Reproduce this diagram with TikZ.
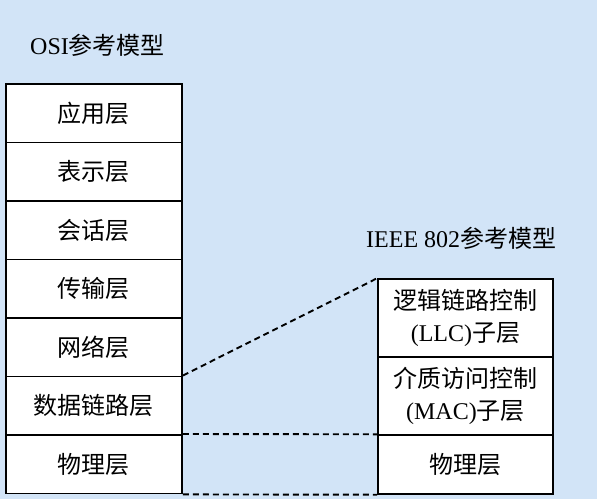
\documentclass[tikz,border=0pt]{standalone}
\usepackage{fontspec}
\setmainfont{Liberation Serif}
\newfontfamily\cjk{Noto Sans CJK SC}
\definecolor{paper}{RGB}{210,228,247}
\begin{document}
\begin{tikzpicture}[x=1pt,y=-1pt,
  layer/.style={draw=black, line width=1.9pt, fill=white, inner sep=0pt,
    minimum width=176pt, minimum height=58.5pt, anchor=north west,
    align=center, font=\fontsize{24}{32}\selectfont},
  tall/.style={layer, minimum height=78pt},
  title/.style={anchor=west, inner sep=0pt, font=\fontsize{24}{28}\selectfont},
  link/.style={draw=black, line width=1.9pt, dash pattern=on 6pt off 4pt}]
  % background sheet
  \fill[paper] (0,0) rectangle (597,499);
  \useasboundingbox (0,0) rectangle (597,499);

  % OSI stack
  \node[title] (osiT) at (30,45) {OSI{\cjk 参考模型}};
  \node[layer] (app)  at (5,83)    {\cjk 应用层};
  \node[layer] (pres) at (5,141.5) {\cjk 表示层};
  \node[layer] (sess) at (5,200)   {\cjk 会话层};
  \node[layer] (tran) at (5,258.5) {\cjk 传输层};
  \node[layer] (net)  at (5,317)   {\cjk 网络层};
  \node[layer] (dl)   at (5,375.5) {\cjk 数据链路层};
  \node[layer] (phy)  at (5,434)   {\cjk 物理层};

  % IEEE 802 stack
  \node[title] (ieeeT) at (366,238) {IEEE 802{\cjk 参考模型}};
  \node[tall, minimum width=175pt] (llc) at (377,278.3) {{\cjk 逻辑链路控制}\\(LLC){\cjk 子层}};
  \node[tall, minimum width=175pt] (mac) at (377,356.3) {{\cjk 介质访问控制}\\(MAC){\cjk 子层}};
  \node[layer, minimum width=175pt] (phy2) at (377,434.3) {\cjk 物理层};

  % correspondence between the two models
  \draw[link] (dl.north east) -- (llc.north west);
  \draw[link] (phy.north east) -- (phy2.north west);
  \draw[link] (phy.south east) -- (phy2.south west);
\end{tikzpicture}
\end{document}
